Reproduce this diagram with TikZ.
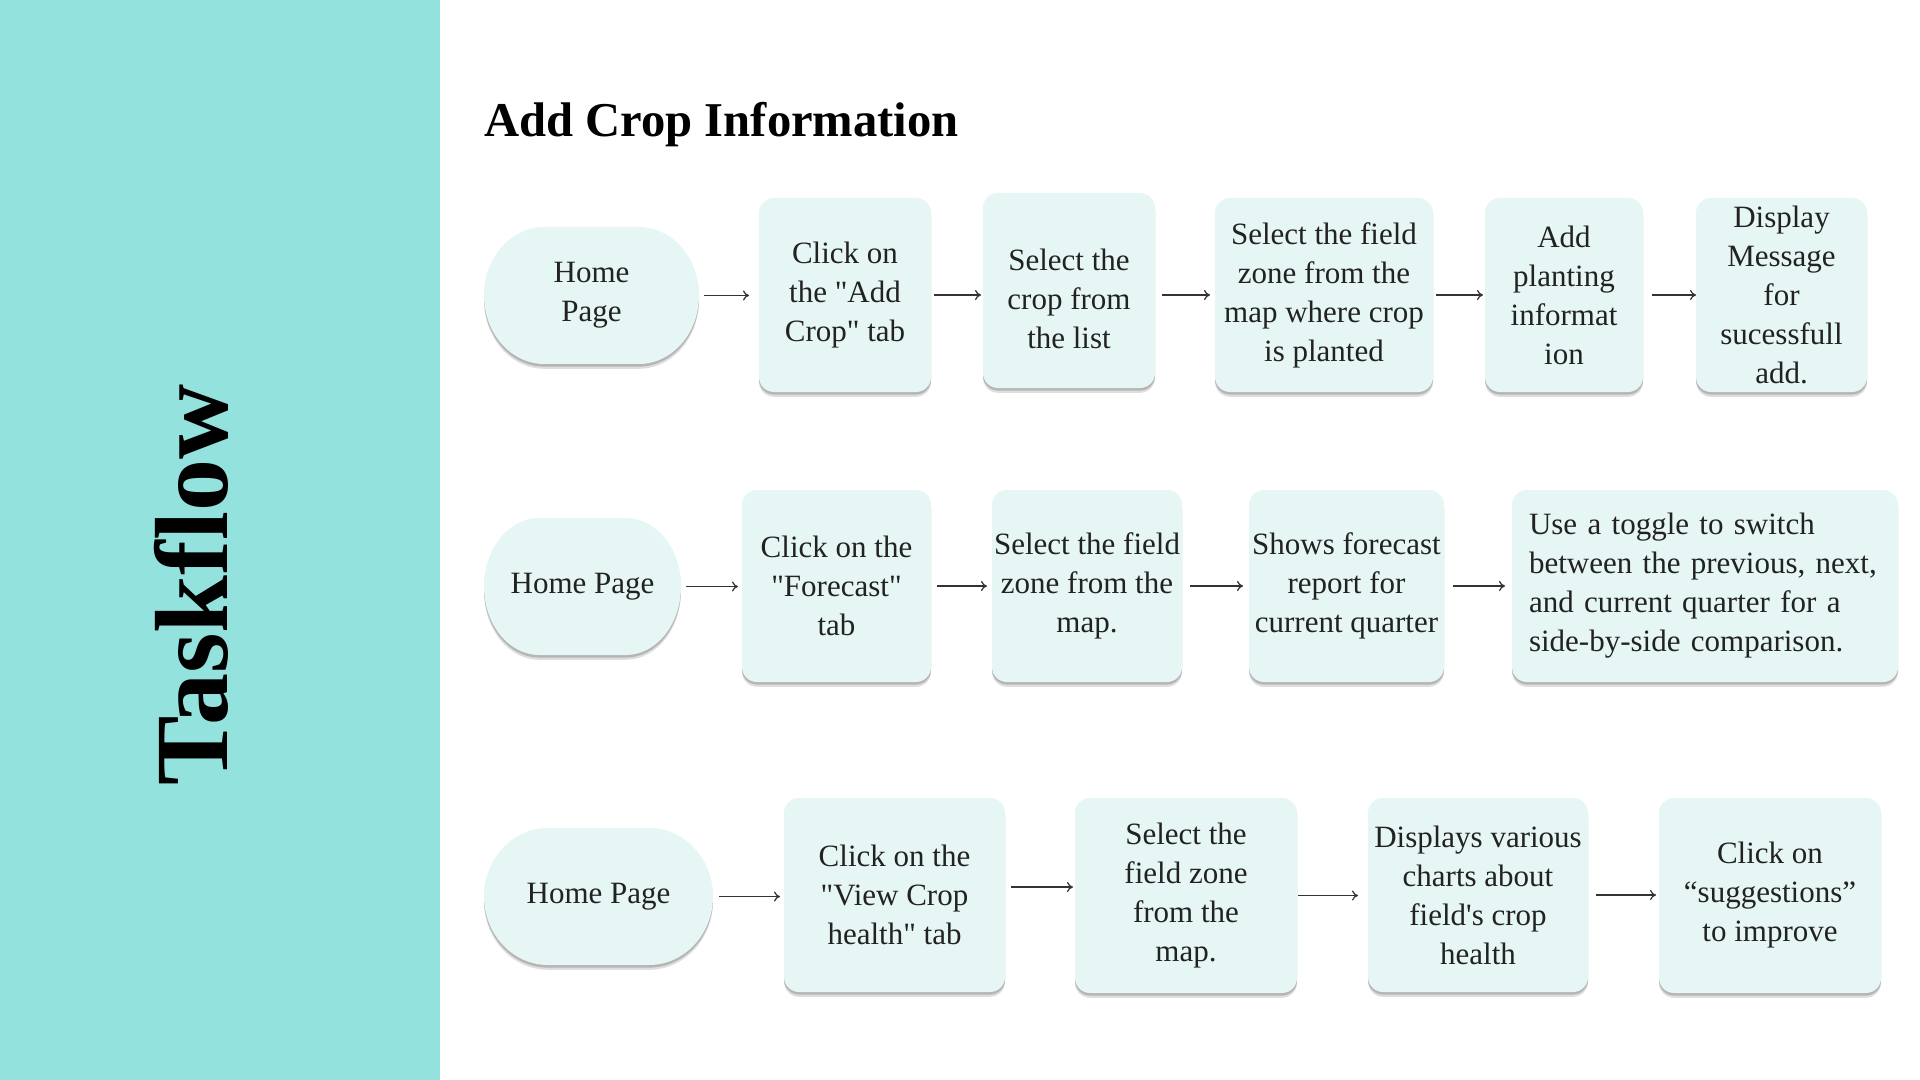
\documentclass[tikz,border=0pt]{standalone}
\usepackage{fontspec}
\setmainfont{Liberation Serif}[Ligatures=TeXOff]
\usetikzlibrary{shadows,arrows.meta,calc,backgrounds}
\definecolor{panel}{HTML}{93E2DE}
\definecolor{boxfill}{HTML}{E6F6F5}
\definecolor{txt}{HTML}{222222}
\definecolor{arrowc}{HTML}{333333}
\newcommand\bxfont{\fontsize{15.5}{19.5}\selectfont}
\newcommand\homeblob[1]{%
  \fill[blobstyle] (#1.west)
   .. controls ($(#1.west)!0.552!(#1.north west)$) and ($(#1.north west)!0.1254!(#1.north east)$) .. ($(#1.north west)!0.28!(#1.north east)$)
   -- ($(#1.north west)!0.72!(#1.north east)$)
   .. controls ($(#1.north west)!0.8746!(#1.north east)$) and ($(#1.east)!0.552!(#1.north east)$) .. (#1.east)
   .. controls ($(#1.east)!0.552!(#1.south east)$) and ($(#1.south west)!0.8746!(#1.south east)$) .. ($(#1.south west)!0.72!(#1.south east)$)
   -- ($(#1.south west)!0.28!(#1.south east)$)
   .. controls ($(#1.south west)!0.1254!(#1.south east)$) and ($(#1.west)!0.552!(#1.south west)$) .. (#1.west) -- cycle;}
\begin{document}
\begin{tikzpicture}[x=0.5pt,y=-0.5pt,
  softshadow/.style={drop shadow={shadow xshift=0pt,shadow yshift=-2.4pt,opacity=0.13,fill=black},
                     drop shadow={shadow xshift=0pt,shadow yshift=-1.3pt,opacity=0.18,fill=black}},
  stepbox/.style={rectangle, rounded corners=7.5pt, fill=boxfill, softshadow, align=center,
                  inner sep=0pt, outer sep=0pt, font=\bxfont, text=txt},
  homenode/.style={rectangle, inner sep=0pt, outer sep=0pt, align=center, font=\bxfont, text=txt,
                   minimum height=68.5pt},
  blobstyle/.style={fill=boxfill, softshadow},
  arr/.style={draw=arrowc, line width=0.6pt, -{To[length=3pt,width=5pt]}}]
\useasboundingbox (0,0) rectangle (1920,1080);
\node[rotate=90, anchor=base, text=black, font=\fontsize{52}{62}\selectfont\bfseries] (tf) at (227,585) {Taskflow};
\node[anchor=base west, inner sep=0pt, text=black, font=\fontsize{24.3}{29}\selectfont\bfseries] (title) at (484,137) {Add Crop Information};

% Row 1
\node[homenode, minimum width=107.5pt] (h1) at (591.5,295.5) {Home\\Page};
\node[stepbox, minimum width=86pt, minimum height=97pt] (b12) at (845,295) {Click on\\the "Add\\Crop" tab};
\node[stepbox, minimum width=86pt, minimum height=97.5pt,
      label={[name=b13t, align=center, font=\bxfont, text=txt, inner sep=0pt, yshift=-4.3pt]center:{Select the\\crop from\\the list}}] (b13) at (1069,290.5) {};
\node[stepbox, minimum width=109pt, minimum height=97pt] (b14) at (1324,295) {Select the field\\zone from the\\map where crop\\is planted};
\node[stepbox, minimum width=79pt, minimum height=97pt] (b15) at (1564,295) {Add\\planting\\informat\\ion};
\node[stepbox, minimum width=85.5pt, minimum height=97pt] (b16) at (1781.5,295) {Display\\Message\\for\\sucessfull\\add.};

% Row 2
\node[homenode, minimum width=98.5pt] (h2) at (582.5,586.5) {Home Page};
\node[stepbox, minimum width=94.5pt, minimum height=96pt] (b22) at (836.5,586) {Click on the\\"Forecast"\\tab};
\node[stepbox, minimum width=95pt, minimum height=96pt] (b23) at (1087,586) {Select the field\\zone from the\\map.};
\node[stepbox, minimum width=97.5pt, minimum height=96pt] (b24) at (1346.5,586) {Shows forecast\\report for\\current quarter};
\node[stepbox, minimum width=193pt, minimum height=96pt, align=left, text width=176pt] (b25) at (1705,586) {Use a toggle to switch\\between the previous, next,\\and current quarter for a\\side-by-side comparison.};

% Row 3
\node[homenode, minimum width=114.5pt] (h3) at (598.5,896.5) {Home Page};
\node[stepbox, minimum width=110.5pt, minimum height=97pt] (b32) at (894.5,895) {Click on the\\"View Crop\\health" tab};
\node[stepbox, minimum width=111pt, minimum height=97.5pt] (b33) at (1186,895.5) {Select the\\field zone\\from the\\map.};
\node[stepbox, minimum width=110pt, minimum height=97pt] (b34) at (1478,895) {Displays various\\charts about\\field's crop\\health};
\node[stepbox, minimum width=111pt, minimum height=97.5pt] (b35) at (1770,895.5) {Click on\\“suggestions”\\to improve};

\begin{scope}[on background layer]
  \fill[white] (0,0) rectangle (1920,1080);
  \fill[panel] (0,0) rectangle (440,1080);
  \homeblob{h1}
  \homeblob{h2}
  \homeblob{h3}
\end{scope}

% Arrows row 1
\draw[arr, shorten <=2.5pt, shorten >=5pt] (h1.east) -- (h1.east -| b12.west);
\draw[arr, shorten <=1.5pt, shorten >=1pt] (b12.east) -- (b12.east -| b13.west);
\draw[arr, shorten <=3.5pt, shorten >=2.5pt] (b14.west -| b13.east) -- (b14.west);
\draw[arr, shorten <=1.5pt, shorten >=1pt] (b14.east) -- (b15.west);
\draw[arr, shorten <=4.5pt, shorten >=0pt] (b15.east) -- (b16.west);
% Arrows row 2
\draw[arr, shorten <=2.5pt, shorten >=2pt] (h2.east) -- (h2.east -| b22.west);
\draw[arr, shorten <=3pt, shorten >=2.5pt] (b22.east) -- (b23.west);
\draw[arr, shorten <=4pt, shorten >=3pt] (b23.east) -- (b24.west);
\draw[arr, shorten <=4.5pt, shorten >=3.5pt] (b24.east) -- (b25.west);
% Arrows row 3
\draw[arr, shorten <=3pt, shorten >=2pt] (h3.east) -- (h3.east -| b32.west);
\draw[arr, shorten <=3pt, shorten >=1pt] ([yshift=4pt]b32.east) -- ([yshift=4pt]b32.east -| b33.west);
\draw[arr, shorten <=0.5pt, shorten >=5pt] (b33.east) -- (b33.east -| b34.west);
\draw[arr, shorten <=4pt, shorten >=1.5pt] (b34.east) -- (b34.east -| b35.west);
\end{tikzpicture}
\end{document}
